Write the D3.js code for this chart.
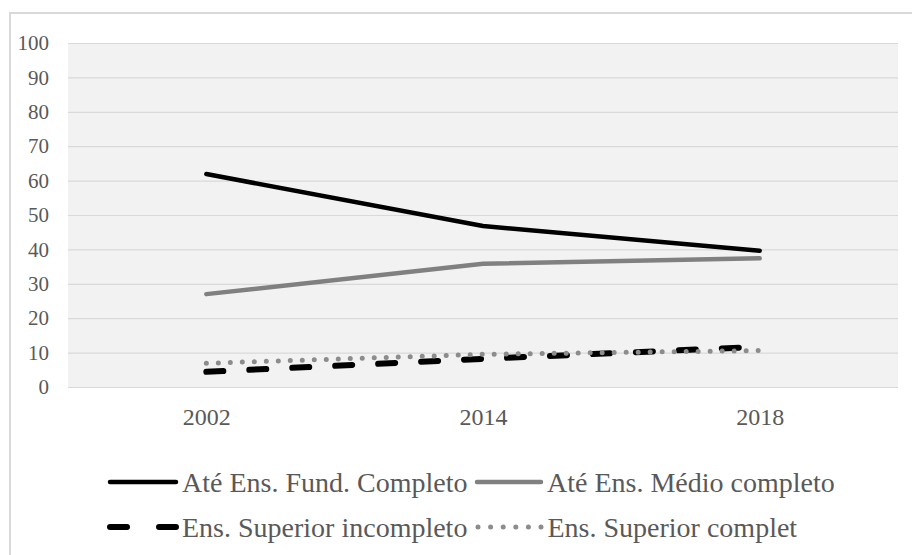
<!DOCTYPE html>
<html>
<head>
<meta charset="utf-8">
<script src="https://cdn.jsdelivr.net/npm/d3@7"></script>
<style>
  body { margin: 0; background: #fff; }
  text { font-family: "Liberation Serif", "Times New Roman", serif; fill: #595959; }
</style>
</head>
<body>
<div class="container"></div>
<script>
// data
var years = ["2002", "2014", "2018"];
var fundCompleto = [61.9, 46.8, 39.6];
var medioCompleto = [27.0, 35.8, 37.4];
var superiorIncompleto = [4.4, 8.2, 11.7];
var superiorCompleto = [6.9, 9.5, 10.6];
var seriesNames = ["Até Ens. Fund. Completo", "Até Ens. Médio completo",
                   "Ens. Superior incompleto", "Ens. Superior complet"];
var yTicks = [0, 10, 20, 30, 40, 50, 60, 70, 80, 90, 100];

var w = 912, h = 555;
var plotLeft = 68, plotRight = 898, plotTop = 43, plotBottom = 387;

var svg = d3.select(".container")
    .append("svg")
    .attr("width", w)
    .attr("height", h);

// chart border
svg.append("rect")
    .attr("x", 10).attr("y", 13)
    .attr("width", w + 20).attr("height", h + 20)
    .attr("fill", "#fff")
    .attr("stroke", "#d9d9d9")
    .attr("stroke-width", 2);

var x = d3.scalePoint()
    .domain(years)
    .range([plotLeft, plotRight])
    .padding(0.5);

var y = d3.scaleLinear()
    .domain([0, 100])
    .range([plotBottom, plotTop]);

svg.append("rect")
    .attr("x", plotLeft).attr("y", plotTop)
    .attr("width", plotRight - plotLeft).attr("height", plotBottom - plotTop)
    .attr("fill", "#f2f2f2");

var yAxis = svg.append("g")
    .attr("transform", "translate(" + plotLeft + ",0)")
    .call(d3.axisLeft(y).tickValues(yTicks)
        .tickSizeInner(-(plotRight - plotLeft)).tickSizeOuter(0).tickPadding(19));
yAxis.select(".domain").remove();
yAxis.selectAll(".tick line").attr("stroke", "#d9d9d9").attr("stroke-width", 1.2);
yAxis.selectAll(".tick text")
    .attr("font-size", "21px")
    .attr("fill", "#595959")
    .style("font-family", "Liberation Serif");

var xAxis = svg.append("g")
    .attr("transform", "translate(0," + plotBottom + ")")
    .call(d3.axisBottom(x).tickSize(0).tickPadding(21));
xAxis.select(".domain").remove();
xAxis.selectAll(".tick text")
    .attr("font-size", "24px")
    .attr("fill", "#595959")
    .style("font-family", "Liberation Serif");

// drawing order: dotted on top of dashed, as in the original
var series = [
    {name: seriesNames[0], values: fundCompleto, color: "#000", width: 4.5, dash: null},
    {name: seriesNames[1], values: medioCompleto, color: "#808080", width: 4.5, dash: null},
    {name: seriesNames[2], values: superiorIncompleto, color: "#000", width: 6, dash: "17,26"},
    {name: seriesNames[3], values: superiorCompleto, color: "#8c8c8c", width: 5, dash: "0,12"}
];

var line = d3.line()
    .x(function(d, i) { return x(years[i]); })
    .y(function(d) { return y(d); });

svg.selectAll("path.series")
    .data(series)
    .enter()
    .append("path")
    .attr("class", "series")
    .attr("d", function(d) { return line(d.values); })
    .attr("fill", "none")
    .attr("stroke", function(d) { return d.color; })
    .attr("stroke-width", function(d) { return d.width; })
    .attr("stroke-linecap", "round")
    .attr("stroke-linejoin", "round")
    .attr("stroke-dasharray", function(d) { return d.dash; });

// legend, two rows of two
var legendItems = [
    {s: series[0], x1: 110, x2: 176, ty: 482, dash: null},
    {s: series[1], x1: 477, x2: 541, ty: 482, dash: null},
    {s: series[2], x1: 110, x2: 176, ty: 527, dash: "17,32"},
    {s: series[3], x1: 478, x2: 541.5, ty: 527, dash: "0,12.6"}
];

var lg = svg.selectAll("g.legend")
    .data(legendItems)
    .enter()
    .append("g")
    .attr("class", "legend");

lg.append("line")
    .attr("x1", function(d) { return d.x1; })
    .attr("x2", function(d) { return d.x2; })
    .attr("y1", function(d) { return d.ty; })
    .attr("y2", function(d) { return d.ty; })
    .attr("stroke", function(d) { return d.s.color; })
    .attr("stroke-width", function(d) { return d.s.width; })
    .attr("stroke-linecap", "round")
    .attr("stroke-dasharray", function(d) { return d.dash; });

lg.append("text")
    .attr("x", function(d) { return d.x2 + 6; })
    .attr("y", function(d) { return d.ty + 10; })
    .attr("font-size", "28px")
    .text(function(d) { return d.s.name; });
</script>
</body>
</html>
